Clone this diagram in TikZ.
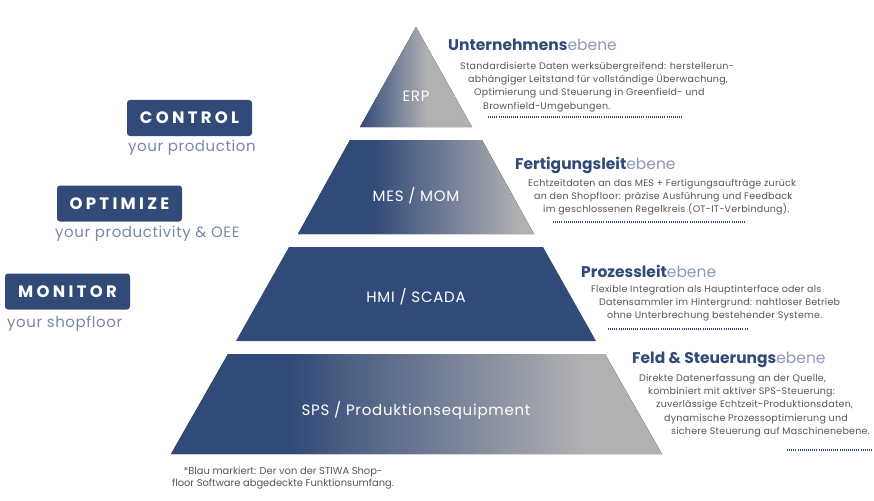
\documentclass[tikz,border=0pt]{standalone}
\usepackage{fontspec}
\setmainfont{Poppins}
\usetikzlibrary{positioning}
\definecolor{stiwablau}{RGB}{50,74,120}
\definecolor{stiwagrau}{RGB}{177,177,179}
\definecolor{ebenegrau}{RGB}{140,152,182}
\definecolor{textgrau}{RGB}{85,85,85}
\definecolor{subgrau}{RGB}{120,136,170}
\pgfdeclarehorizontalshading{erpfade}{100bp}{color(0bp)=(stiwablau); color(25bp)=(stiwablau); color(55bp)=(stiwagrau); color(100bp)=(stiwagrau)}
\pgfdeclarehorizontalshading{mesfade}{100bp}{color(0bp)=(stiwablau); color(41bp)=(stiwablau); color(72bp)=(stiwagrau); color(100bp)=(stiwagrau)}
\pgfdeclarehorizontalshading{spsfade}{100bp}{color(0bp)=(stiwablau); color(37bp)=(stiwablau); color(67bp)=(stiwagrau); color(100bp)=(stiwagrau)}
\tikzset{
  ebene/.style={text=white, font=\fontsize{15}{17}\selectfont\addfontfeatures{LetterSpace=5}},
  titel/.style={anchor=west, inner sep=0pt, text=stiwablau, font=\fontsize{15.5}{18}\selectfont},
  info/.style={anchor=north west, inner sep=0pt, align=left, text=textgrau, font=\fontsize{9.5}{13.2}\selectfont\addfontfeatures{LetterSpace=2.5}},
  punkte/.style={stiwablau, line width=1.3pt, dash pattern=on 1pt off 1.1pt},
  schild/.style={fill=stiwablau, rounded corners=3pt, text=white, minimum width=125pt, minimum height=36pt, inner sep=0pt,
    font=\fontsize{16.5}{18}\selectfont\bfseries\addfontfeatures{LetterSpace=20}},
  unter/.style={anchor=west, inner sep=0pt, text=subgrau, font=\fontsize{15}{17}\selectfont\addfontfeatures{LetterSpace=4}},
}

\begin{document}
\begin{tikzpicture}[x=1pt,y=-1pt]
    \useasboundingbox (0,0) rectangle (874,500);
    % pyramide
    \fill[shading=erpfade] (416,27) -- (472,127) -- (360,127) -- cycle;
    \fill[shading=mesfade] (350,140) -- (482,140) -- (534,234) -- (298,234) -- cycle;
    \fill[stiwablau] (289,247) -- (543,247) -- (596,341) -- (236,341) -- cycle;
    \fill[shading=spsfade] (228,354) -- (605,354) -- (662,454) -- (171,454) -- cycle;
    \node[ebene] (erp) at (416,96) {ERP};
    \node[ebene] (mes) at (416,196) {MES / MOM};
    \node[ebene] (hmi) at (416,297) {HMI / SCADA};
    \node[ebene] (sps) at (416,410) {SPS /\ Produktionsequipment};
    % ebenen rechts
    \node[titel] (t1) at (448,45) {\bfseries Unternehmens\mdseries\color{ebenegrau}ebene};
    \node[info] (i1) at (460,62) {Standardisierte Daten werksübergreifend: herstellerun-\\
      \hspace*{8pt}abhängiger Leitstand für vollständige Überwachung,\\
      \hspace*{14pt}Optimierung und Steuerung in Greenfield- und\\
      \hspace*{23pt}Brownfield-Umgebungen.};
    \draw[punkte] (488,117) -- (683,117);
    \node[titel] (t2) at (515,165) {\bfseries Fertigungsleit\mdseries\color{ebenegrau}ebene};
    \node[info] (i2) at (528,179) {Echtzeitdaten an das MES + Fertigungsaufträge zurück\\
      \hspace*{6pt}an den Shopfloor: präzise Ausführung und Feedback\\
      \hspace*{15pt}im geschlossenen Regelkreis (OT-IT-Verbindung).};
    \draw[punkte] (553,222) -- (745,222);
    \node[titel] (t3) at (581,271) {\bfseries Prozessleit\mdseries\color{ebenegrau}ebene};
    \node[info] (i3) at (591,285) {Flexible Integration als Hauptinterface oder als\\
      \hspace*{8pt}Datensammler im Hintergrund: nahtloser Betrieb\\
      \hspace*{16pt}ohne Unterbrechung bestehender Systeme.};
    \draw[punkte] (608,329) -- (748,329);
    \node[titel] (t4) at (632,360) {\bfseries Feld \& Steuerungs\mdseries\color{ebenegrau}ebene};
    \node[info] (i4) at (639,374) {Direkte Datenerfassung an der Quelle,\\
      \hspace*{9pt}kombiniert mit aktiver SPS-Steuerung:\\
      \hspace*{17pt}zuverlässige Echtzeit-Produktionsdaten,\\
      \hspace*{25pt}dynamische Prozessoptimierung und\\
      \hspace*{32pt}sichere Steuerung auf Maschinenebene.};
    \draw[punkte] (787,450) -- (873,450);
    % links
    \node[schild] (control) at (189.5,118) {CONTROL};
    \node[unter] (controlsub) at (128,148) {your production};
    \node[schild] (optimize) at (119.5,203.5) {OPTIMIZE};
    \node[unter] (optimizesub) at (55,234) {your productivity \& OEE};
    \node[schild] (monitor) at (67.5,291.5) {MONITOR};
    \node[unter] (monitorsub) at (7,324) {your shopfloor};
    % fussnote
    \node[align=center, text=textgrau, font=\fontsize{9.9}{12}\selectfont] (fuss) at (283,478)
      {*Blau markiert: Der von der STIWA Shop-\\floor Software abgedeckte Funktionsumfang.};
\end{tikzpicture}
\end{document}
